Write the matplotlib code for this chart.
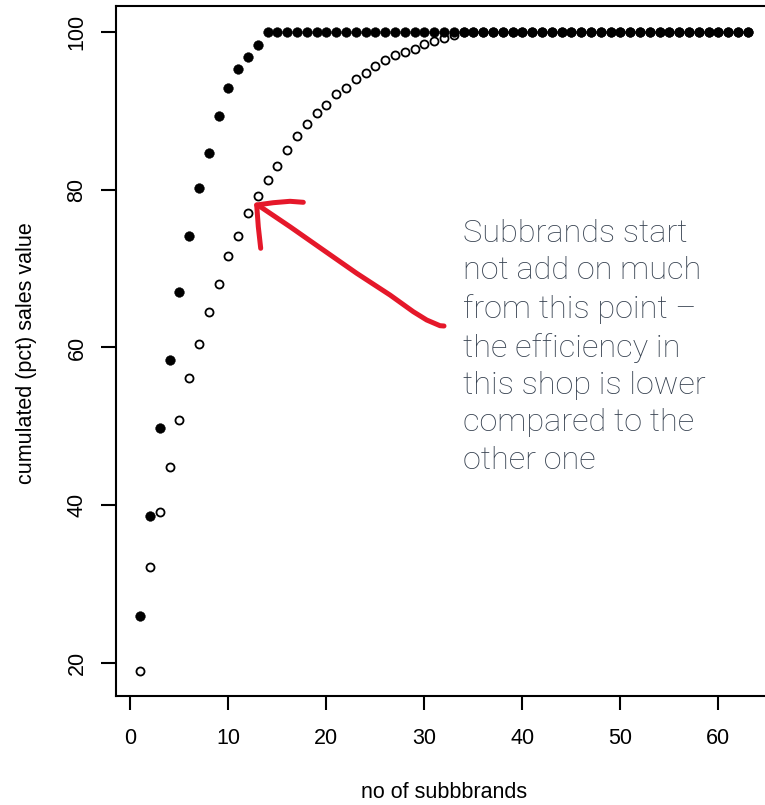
import matplotlib
matplotlib.use("Agg")
import matplotlib.pyplot as plt
import matplotlib.transforms as mtransforms
from matplotlib.lines import Line2D

# ---- data ----
n_subbrands = list(range(1, 64))
shop_a_pct = [26.0, 38.6, 49.8, 58.4, 67.0, 74.1, 80.2, 84.7, 89.3, 92.9,
              95.3, 96.8, 98.3] + [100.0] * 50
shop_b_pct = [19.0, 32.2, 39.1, 44.9, 50.8, 56.1, 60.4, 64.5, 68.0, 71.6,
              74.1, 77.0, 79.2, 81.2, 83.0, 85.0, 86.8, 88.3, 89.7, 90.8,
              92.1, 92.9, 94.0, 94.8, 95.7, 96.4, 97.1, 97.5, 97.9, 98.5,
              98.9, 99.2, 99.6] + [100.0] * 30
x_ticks = [0, 10, 20, 30, 40, 50, 60]
y_ticks = [20, 40, 60, 80, 100]
x_label = "no of subbbrands"
y_label = "cumulated (pct) sales value"
note = ("Subbrands start\nnot add on much\nfrom this point \u2013\n"
        "the efficiency in\nthis shop is lower\ncompared to the\nother one")

W, H = 765, 805
fig = plt.figure(figsize=(W / 100, H / 100), dpi=100)
ax = fig.add_axes([116 / W, 1 - 696.4 / H, 656 / W, 690 / H])

ax.plot(n_subbrands, shop_b_pct, linestyle="none", marker="o", ms=5.8,
        mfc="white", mec="black", mew=1.3, zorder=3)
ax.plot(n_subbrands, shop_a_pct, linestyle="none", marker="o", ms=7.0,
        mfc="black", mec="black", mew=0.3, zorder=4)

xmin, xmax = min(n_subbrands), max(n_subbrands)
dx = (xmax - xmin) * 0.04
allv = shop_a_pct + shop_b_pct
ymin, ymax = min(allv), max(allv)
dy = (ymax - ymin) * 0.04
ax.set_xlim(xmin - dx, xmax + dx)
ax.set_ylim(ymin - dy, ymax + dy)

for s in ax.spines.values():
    s.set_linewidth(1.5)
ax.spines["right"].set_visible(False)

tick_font = dict(family=["Liberation Sans", "DejaVu Sans"], size=15.5)
ax.set_xticks(x_ticks)
ax.set_yticks(y_ticks)
ax.set_xticklabels([str(v) for v in x_ticks], **tick_font)
ax.set_yticklabels([str(v) for v in y_ticks], rotation=90, va="center", **tick_font)
ax.tick_params(axis="x", length=10, width=1.5, pad=13, direction="out")
ax.tick_params(axis="y", length=10.5, width=1.5, pad=10, direction="out")

ax.set_xlabel(x_label, **tick_font)
ax.xaxis.set_label_coords(0.5, -(792 - 696.4) / 690)
ax.xaxis.label.set_va("center")
ax.set_ylabel(y_label, **tick_font)
ax.yaxis.set_label_coords((27 - 116) / 656, (696.4 - 353.5) / 690)
ax.yaxis.label.set_va("center")
ax.yaxis.label.set_ha("center")

# annotation text (figure-pixel placement)
px = mtransforms.Affine2D().scale(1, -1).translate(0, H)
fig.text(463 / W, 1 - 219 / H, note, ha="left", va="top",
         family=["Roboto", "DejaVu Sans"], fontweight="light", fontsize=23.4,
         color="#364150", linespacing=1.365)

# hand-drawn red arrow
red = "#e5182a"
shaft = [(444, 326), (440, 325.7), (426.7, 320), (413.3, 311.7), (390, 295),
         (356.7, 273.3), (323.3, 250), (290, 226.7), (259.3, 206)]
head1 = [(256.7, 205), (273.3, 202.7), (290, 201.3), (303.3, 202.3)]
head2 = [(256.7, 205), (258.3, 226.7), (260.7, 248.3)]
for pts in (shaft, head1, head2):
    xs = [p[0] for p in pts]
    ys = [p[1] for p in pts]
    fig.add_artist(Line2D(xs, ys, transform=px, color=red, lw=3.6,
                          solid_capstyle="round", solid_joinstyle="round"))

fig.savefig("out.png", dpi=100)
